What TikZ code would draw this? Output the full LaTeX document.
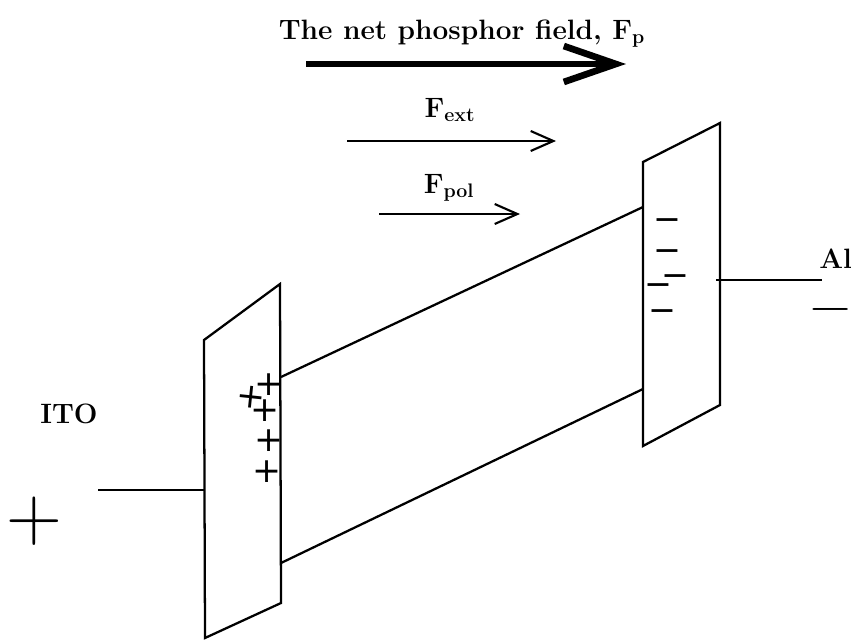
\documentclass[tikz,border=0pt]{standalone}
\usepackage{fontspec}
\newfontfamily\chargefont{DejaVu Sans}
\usetikzlibrary{arrows.meta,positioning}

\begin{document}
\begin{tikzpicture}[x=0.75pt, y=-0.75pt,
      plate/.style={draw, line width=1.7pt, line join=miter},
      wire/.style={draw, line width=1.4pt},
      arr/.style={-{Straight Barb[length=17pt, width=15pt, line width=1.6pt]}, line width=1.5pt},
      bigarr/.style={-{Straight Barb[length=39pt, width=27pt, line width=5pt]}, line width=4pt},
      lab/.style={font=\fontsize{21}{24}\selectfont\bfseries, inner sep=0pt, anchor=base},
      chargep/.style={font=\fontsize{26}{26}\selectfont\chargefont, inner sep=0pt},
      chargem/.style={font=\fontsize{25}{25}\selectfont\chargefont, inner sep=0pt}
    ]
    \useasboundingbox (0,0) rectangle (851,640);

    % plates
    \coordinate (lt) at (204,340);
    \coordinate (lu) at (280,284);
    \coordinate (ld) at (281,603);
    \coordinate (lb) at (205,638);
    \coordinate (rt) at (643,162);
    \coordinate (ru) at (720,123);
    \coordinate (rd) at (720,405);
    \coordinate (rb) at (643,446);
    \draw[plate] (lt) -- (lu) -- (ld) -- (lb) -- cycle;
    \draw[plate] (rt) -- (ru) -- (rd) -- (rb) -- cycle;

    % field region
    \coordinate (a1) at (281,377);
    \coordinate (b1) at (643,207);
    \coordinate (a2) at (281,563);
    \coordinate (b2) at (643,389);
    \draw[plate] (a1) -- (b1);
    \draw[plate] (a2) -- (b2);

    % labels
    \node[lab] (fp) at (462,39) {The net phosphor field, F\textsubscript{p}};
    \node[lab] (fext) at (450,117) {F\textsubscript{ext}};
    \node[lab] (fpol) at (449,193) {F\textsubscript{pol}};
    \node[lab] (ito) at (69,423) {ITO};
    \node[lab, anchor=base west] (al) at (819,268) {Al};

    % arrows
    \coordinate (p0) at (306,64);
    \coordinate (p1) at (626,64);
    \coordinate (e0) at (347,141);
    \coordinate (e1) at (556,141);
    \coordinate (q0) at (379,214);
    \coordinate (q1) at (520,214);
    \draw[bigarr] (p0) -- (p1);
    \draw[arr] (e0) -- (e1);
    \draw[arr] (q0) -- (q1);

    % leads
    \coordinate (ito0) at (98,490);
    \coordinate (ito1) at (204,490);
    \coordinate (al0) at (716,280);
    \coordinate (al1) at (822,280);
    \draw[wire] (ito0) -- (ito1);
    \draw[wire] (al0) -- (al1);

    % charges
    \foreach \x/\y/\r in {269/385/0, 251/397/-6, 265/411/0, 269/441/0, 267/472/0}
      \node[chargep, rotate=\r] at (\x,\y) {+};
    \foreach \x/\y in {667/225, 667/256, 675/281, 658/290, 662/316}
      \node[chargem] at (\x,\y) {−};
    \node[font=\fontsize{58}{58}\selectfont, inner sep=0pt] (plus) at (34,521) {+};
    \node[font=\fontsize{42}{42}\selectfont, inner sep=0pt] (minus) at (831,316) {−};
  \end{tikzpicture}
\end{document}
